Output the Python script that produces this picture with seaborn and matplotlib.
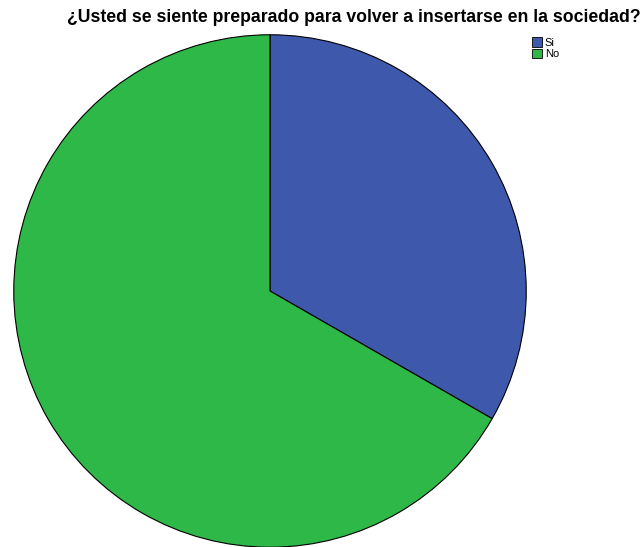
import matplotlib
matplotlib.use("Agg")
import matplotlib.pyplot as plt
import matplotlib.patches as mpatches
import seaborn as sns

# Datos
categorias = ["Si", "No"]
porcentajes = [33.3, 66.7]
colores = ["#3e58ac", "#2eb848"]
titulo = "¿Usted se siente preparado para volver a insertarse en la sociedad?"

sns.set_style("white")
plt.rcParams['font.family'] = ['Liberation Sans', 'DejaVu Sans']
plt.rcParams['text.color'] = 'black'

fig = plt.figure(figsize=(6.42, 5.47), dpi=100)
ax = fig.add_axes([13 / 642, (547 - 548) / 547, 514 / 642, 514 / 547])

ax.pie(porcentajes, colors=sns.color_palette(colores), startangle=90, counterclock=False,
       wedgeprops={'edgecolor': 'black', 'linewidth': 0.8})
ax.set_xlim(-1.003, 1.003)
ax.set_ylim(-1.003, 1.003)
ax.set_aspect('equal')

fig.text(354 / 642, 1 - 18 / 547, titulo, ha='center', va='center',
         fontsize=12.7, fontweight='bold', color='black')

handles = [mpatches.Patch(facecolor=c, edgecolor='black', linewidth=0.6, label=l)
           for c, l in zip(colores, categorias)]
fig.legend(handles=handles, loc='upper left', bbox_to_anchor=(528 / 642, 1 - 33 / 547),
           frameon=False, fontsize=8, handlelength=0.9, handleheight=0.9,
           handletextpad=0.2, labelspacing=0.1, borderaxespad=0, labelcolor='black')

fig.savefig("out.png", dpi=100)
